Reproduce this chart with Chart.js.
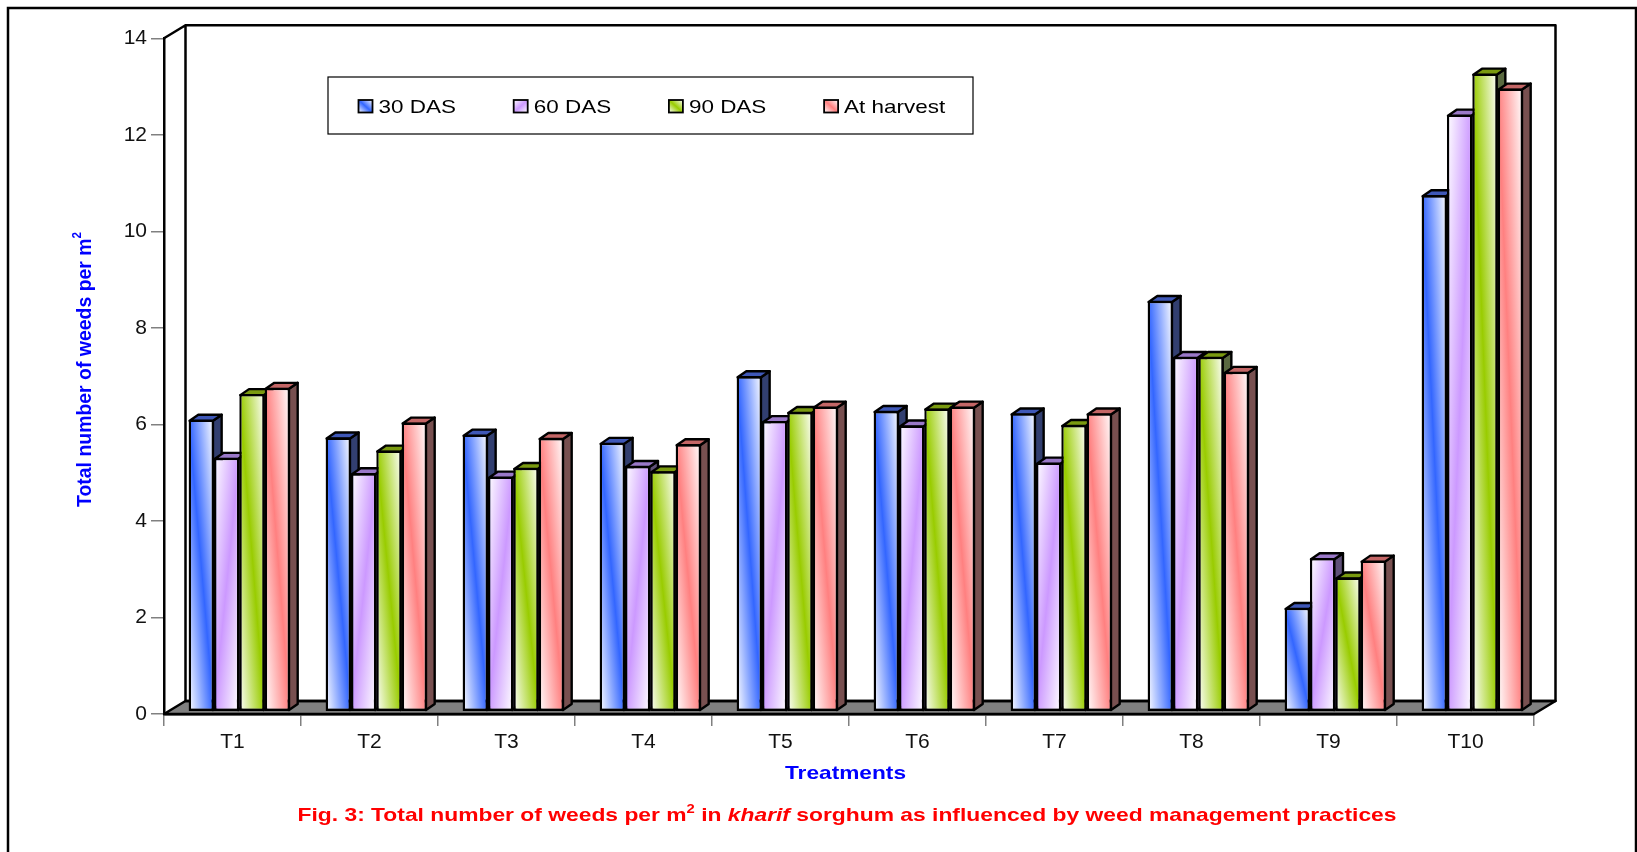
<!DOCTYPE html>
<html>
<head>
<meta charset="utf-8">
<style>
  html, body { margin: 0; padding: 0; background: #fff; }
  canvas { display: block; }
</style>
<script src="https://cdn.jsdelivr.net/npm/chart.js@4"></script>
</head>
<body>
<canvas id="chart1" width="1637" height="852"></canvas>
<script>
// ----------------------------
// Data
// ----------------------------
const treatments = ["T1","T2","T3","T4","T5","T6","T7","T8","T9","T10"];
const seriesLabels = ["30 DAS","60 DAS","90 DAS","At harvest"];
const das30 = [6.05,5.68,5.74,5.57,6.95,6.23,6.18,8.51,2.15,10.70];
const das60 = [5.26,4.94,4.87,5.09,6.02,5.93,5.16,7.35,3.18,12.37];
const das90 = [6.58,5.41,5.05,4.98,6.21,6.28,5.94,7.35,2.78,13.22];
const atHarvest = [6.71,5.99,5.67,5.54,6.32,6.32,6.18,7.04,3.13,12.91];

const seriesColors = ["#3366ff","#cc99ff","#99cc00","#ff8080"];
const seriesFlip = [false,true,false,false]; // purple streak runs the other way
const topShade = ["#3f58b8","#9a78c8","#7a9a10","#c46666"];
const sideShade = ["#323f70","#5f5078","#5a6a40","#785050"];

// 3d look
const wallDX = 21.5, wallDY = 13;    // depth of the walls
const barDX = 8.7, barDY = 6;        // depth of one bar
const shiftX = 6.8, shiftY = 2.3;    // bars stand a bit inside the floor

const SANS = '"Liberation Sans"';
const categoryPct = 0.74;

// ----------------------------
// Helpers
// ----------------------------

// white-color-white streak along the diagonal of a box
function diagFill(ctx, color, flip, left, top, w, h) {
  const L = Math.sqrt(w*w + h*h) || 1;
  const d = w*h/L;
  let nx = h/L, ny = -w/L;
  if (flip) { ny = w/L; }
  const cx = left + w/2, cy = top + h/2;
  const g = ctx.createLinearGradient(cx - nx*d, cy - ny*d, cx + nx*d, cy + ny*d);
  g.addColorStop(0, "#ffffff");
  g.addColorStop(0.5, color);
  g.addColorStop(1, "#ffffff");
  return g;
}

function barFill(c) {
  const color = seriesColors[c.datasetIndex];
  if (c.type !== "data" || !c.parsed) return color;
  const xs = c.chart.scales.x, ys = c.chart.scales.y;
  const step = xs.getPixelForValue(1) - xs.getPixelForValue(0);
  const w = step*categoryPct/seriesLabels.length;
  const left = xs.getPixelForValue(c.dataIndex) - 2*w + c.datasetIndex*w;
  const top = ys.getPixelForValue(c.parsed.y);
  const h = ys.getPixelForValue(0) - top;
  if (![w, left, top, h].every(Number.isFinite)) return color;
  return diagFill(c.chart.ctx, color, seriesFlip[c.datasetIndex], left, top, w, h);
}

function drawRuns(ctx, runs, sx) {
  let x = 0;
  ctx.save();
  ctx.scale(sx, 1);
  ctx.textBaseline = "alphabetic";
  ctx.textAlign = "left";
  for (const r of runs) {
    ctx.font = r.font;
    ctx.fillText(r.t, x, r.rise ? -r.rise : 0);
    x += ctx.measureText(r.t).width;
  }
  ctx.restore();
}

function runsWidth(ctx, runs) {
  let x = 0;
  for (const r of runs) { ctx.font = r.font; x += ctx.measureText(r.t).width; }
  return x;
}

function drawFitted(ctx, runs, x, y, width, color, angle) {
  ctx.save();
  ctx.fillStyle = color;
  ctx.translate(x, y);
  if (angle) ctx.rotate(angle);
  drawRuns(ctx, runs, width/runsWidth(ctx, runs));
  ctx.restore();
}

function poly(ctx, pts, fill) {
  ctx.beginPath();
  pts.forEach((p, i) => { i ? ctx.lineTo(p[0], p[1]) : ctx.moveTo(p[0], p[1]); });
  ctx.closePath();
  ctx.fillStyle = fill;
  ctx.fill();
  ctx.stroke();
}

// ----------------------------
// Walls, floor, 3d faces, legend and captions
// ----------------------------
const box3d = {
  id: "box3d",

  beforeDraw(chart) {
    const ctx = chart.ctx, a = chart.chartArea;
    ctx.save();
    // page frame, open below the picture
    ctx.strokeStyle = "#000";
    ctx.lineWidth = 2.5;
    ctx.strokeRect(8, 8, 1628, 870);
    // floor
    ctx.lineWidth = 2.5;
    ctx.lineJoin = "round";
    poly(ctx, [[a.left,a.bottom],[a.left+wallDX,a.bottom-wallDY],
               [a.right+wallDX,a.bottom-wallDY],[a.right,a.bottom]], "#808080");
    // back wall and left wall
    ctx.beginPath();
    ctx.rect(a.left+wallDX, a.top-wallDY, a.right-a.left, a.bottom-a.top);
    ctx.moveTo(a.left, a.top); ctx.lineTo(a.left+wallDX, a.top-wallDY);
    ctx.stroke();
    ctx.restore();
  },

  // bars are painted by hand below so that each one covers the side of its left neighbour
  beforeDatasetDraw() { return false; },

  afterDatasetsDraw(chart) {
    const ctx = chart.ctx;
    ctx.save();
    ctx.translate(shiftX, shiftY*-1);
    ctx.strokeStyle = "#000";
    ctx.lineWidth = 2.4;
    ctx.lineJoin = "round";
    chart.getSortedVisibleDatasetMetas().slice().sort((p, q) => p.index - q.index).forEach(meta => {
      meta.data.forEach(el => {
        const l = el.x - el.width/2 + 1, r = el.x + el.width/2 - 1;
        const t = el.y + 1, b = el.base - 1;
        poly(ctx, [[r,t],[r+barDX,t-barDY],[r+barDX,b-barDY],[r,b]], sideShade[meta.index]);
        poly(ctx, [[l,t],[l+barDX,t-barDY],[r+barDX,t-barDY],[r,t]], topShade[meta.index]);
      });
      meta.data.forEach(el => el.draw(ctx));
    });
    ctx.restore();
  },

  afterDraw(chart) {
    const ctx = chart.ctx;
    // legend
    ctx.save();
    ctx.strokeStyle = "#000";
    ctx.lineWidth = 1.2;
    ctx.strokeRect(328, 77, 645, 57);
    seriesLabels.forEach((label, i) => {
      const mx = 358.5 + i*155.2;
      ctx.fillStyle = diagFill(ctx, seriesColors[i], seriesFlip[i], mx, 100, 14, 12.5);
      ctx.strokeStyle = "#000";
      ctx.lineWidth = 1.8;
      ctx.fillRect(mx, 100, 14, 12.5);
      ctx.strokeRect(mx, 100, 14, 12.5);
      ctx.save();
      ctx.translate(mx + 20, 113);
      ctx.fillStyle = "#000";
      drawRuns(ctx, [{t: label, font: "17.7px " + SANS}], 1.27);
      ctx.restore();
    });
    ctx.restore();

    const bold = px => "bold " + px + "px " + SANS;
    // y title
    drawFitted(ctx, [
      {t: "Total number of weeds per m", font: bold(21)},
      {t: "2", font: bold(12.5), rise: 10}
    ], 90.7, 507, 275, "#0000ff", -Math.PI/2);
    // x title
    drawFitted(ctx, [{t: "Treatments", font: bold(18.5)}], 785, 779, 121, "#0000ff");
    // caption
    drawFitted(ctx, [
      {t: "Fig. 3: Total number of weeds per m", font: bold(18.5)},
      {t: "2", font: bold(12), rise: 8},
      {t: " in ", font: bold(18.5)},
      {t: "kharif", font: "italic " + bold(18.5)},
      {t: " sorghum as influenced by weed management practices", font: bold(18.5)}
    ], 297.5, 821, 1099, "#ff0000");
  }
};

// ----------------------------
// main
// ----------------------------
const allSeries = [das30, das60, das90, atHarvest];

new Chart(document.getElementById("chart1").getContext("2d"), {
  type: "bar",
  data: {
    labels: treatments,
    datasets: allSeries.map((data, i) => ({
      label: seriesLabels[i],
      data,
      backgroundColor: barFill,
      borderColor: "#000",
      borderWidth: 2.4,
      borderSkipped: false,
      categoryPercentage: categoryPct,
      barPercentage: 1
    }))
  },
  options: {
    responsive: false,
    animation: false,
    events: [],
    layout: { padding: { left: 0, top: 38.3, right: 103, bottom: 0 } },
    plugins: { legend: { display: false }, tooltip: { enabled: false }, title: { display: false } },
    scales: {
      x: {
        afterFit(s) { s.height = 138; },
        border: { color: "#000", width: 2.5 },
        grid: { drawOnChartArea: false, color: "#808080", lineWidth: 1.5, tickLength: 12 },
        ticks: { color: "#111", padding: 4, maxRotation: 0, font: { family: SANS, size: 21 } }
      },
      y: {
        min: 0,
        max: 14,
        afterFit(s) { s.width = 164; },
        border: { color: "#000", width: 2.5 },
        grid: { drawOnChartArea: false, color: "#808080", lineWidth: 1.5, tickLength: 13 },
        ticks: { stepSize: 2, color: "#111", padding: 4, font: { family: SANS, size: 21 } }
      }
    }
  },
  plugins: [box3d]
});
</script>
</body>
</html>
